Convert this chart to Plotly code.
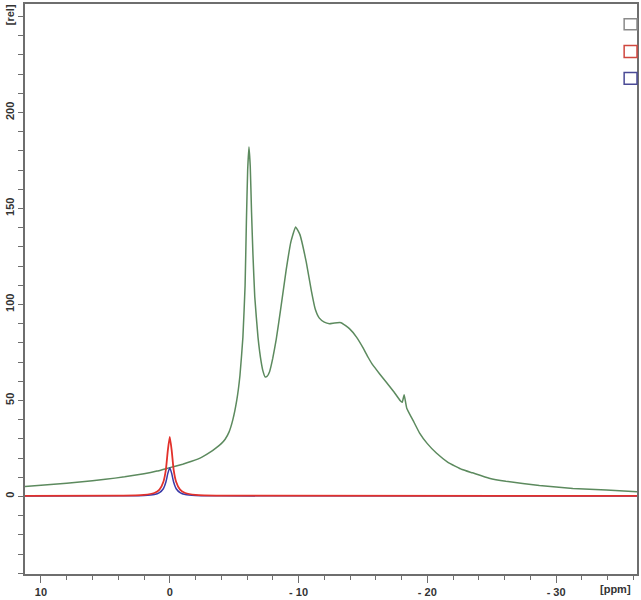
import plotly.graph_objects as go

# ---- data ----
green_ppm = [11.24, 9, 7, 5, 3.5, 2, 1, 0, -1, -1.7, -2.5, -3.2, -3.6, -4.0, -4.3, -4.6, -4.9,
             -5.2, -5.45, -5.68, -5.85, -5.95, -6.05, -6.15, -6.25, -6.35, -6.46, -6.6,
             -6.85, -7.1, -7.25, -7.4, -7.55, -7.75, -8.0, -8.27, -8.6, -9.04, -9.4, -9.77,
             -10.1, -10.6, -11.0, -11.3, -11.6, -12.0, -12.4, -12.8, -13.3, -13.95, -14.5,
             -15.0, -15.4, -15.76, -16.3, -16.8, -17.4, -17.88, -18.05, -18.2, -18.4, -18.9, -19.4,
             -20.0, -20.7, -21.6, -22.7, -23.5, -24.8, -26.1, -28.7, -31.3, -33.9, -36.28]
green_val = [5.2, 6.3, 7.5, 8.9, 10.2, 11.8, 13.2, 15, 16.8, 18.3, 20.5, 23.3, 25.3, 27.5, 29.8, 33.5, 40.0,
             50, 63, 83, 110, 143, 170, 182, 172, 148, 126, 104,
             83, 70, 65, 62.3, 62.5, 65, 72, 82, 97, 118, 132.5, 140.4,
             136.5, 122, 107, 97.5, 93, 90.8, 90, 90.4, 90.5, 87.4, 83,
             77.5, 72.5, 68.5, 63.8, 59.6, 54.5, 50, 49, 53, 46, 39.5, 33,
             27.5, 22.6, 17.8, 14, 12.3, 9.5, 7.9, 5.7, 4.2, 3.3, 2.5]

peak_ppm = [11.24, 4, 2, 1.2, 0.8, 0.5, 0.3, 0.15, 0, -0.15, -0.3, -0.5, -0.8, -1.2, -2, -4, -36.28]
red_val = [0.3, 0.4, 0.8, 1.8, 3.5, 7.5, 14, 24, 31, 24, 14, 7.5, 3.5, 1.8, 0.8, 0.4, 0.3]
blue_val = [0.2, 0.3, 0.5, 1.0, 2.0, 4.0, 7.5, 12, 15, 12, 7.5, 4, 2, 1, 0.5, 0.3, 0.2]

x_tick_vals = [10, 0, -10, -20, -30]
x_tick_text = ["10", "0", "- 10", "- 20", "- 30"]
y_tick_vals = [0, 50, 100, 150, 200, 250]
y_tick_text = ["0", "50", "100", "150", "200", "[rel]"]

GREEN = "#5c8a5e"
RED = "#e2312b"
BLUE = "#3a3aa8"
FRAME = "#6e6e6e"
FONT = dict(family="Liberation Sans, Arial, sans-serif", size=11, color="#333333")

fig = go.Figure()
fig.add_trace(go.Scatter(x=green_ppm, y=green_val, mode="lines",
                         line=dict(color=GREEN, width=1.5, shape="spline", smoothing=0.35)))
fig.add_trace(go.Scatter(x=peak_ppm, y=blue_val, mode="lines",
                         line=dict(color=BLUE, width=1.5, shape="spline", smoothing=0.5)))
fig.add_trace(go.Scatter(x=peak_ppm, y=red_val, mode="lines",
                         line=dict(color=RED, width=1.8, shape="spline", smoothing=0.5)))

# legend-like open squares at top right
for (ya, yb, col) in [(0.955, 0.974, "#8a8a8a"), (0.906, 0.927, "#d0473f"), (0.859, 0.880, "#4a4a96")]:
    fig.add_shape(type="rect", xref="paper", yref="paper", x0=0.979, x1=1.0, y0=ya, y1=yb,
                  line=dict(color=col, width=1.5), fillcolor="rgba(0,0,0,0)")

fig.add_annotation(text="<b>[ppm]</b>", xref="paper", yref="paper", x=0.965, y=-0.012,
                   xanchor="center", yanchor="top", showarrow=False, font=FONT)

fig.update_layout(
    width=641, height=600,
    margin=dict(l=25, r=3, t=2, b=25),
    paper_bgcolor="white", plot_bgcolor="white",
    showlegend=False,
    font=FONT,
    xaxis=dict(range=[11.24, -36.28], showgrid=False, zeroline=False,
               tickvals=x_tick_vals, ticktext=["<b>%s</b>" % t for t in x_tick_text],
               ticks="outside", ticklen=7, tickcolor=FRAME, tickwidth=1,
               minor=dict(dtick=2, tick0=0, ticks="outside", ticklen=4, tickcolor=FRAME),
               showline=True, linecolor=FRAME, linewidth=1.5, mirror=True),
    yaxis=dict(range=[-40.4, 256.5], showgrid=False, zeroline=False,
               tickvals=y_tick_vals, ticktext=["<b>%s</b>" % t for t in y_tick_text],
               tickangle=-90,
               ticks="outside", ticklen=5, tickcolor=FRAME, tickwidth=1,
               minor=dict(dtick=10, tick0=0, ticks="outside", ticklen=5, tickcolor=FRAME),
               showline=True, linecolor=FRAME, linewidth=1.5, mirror=True),
)

fig.write_html("out.html", config={"displayModeBar": False},
               post_script="document.body.style.margin='0';document.body.style.overflow='hidden';")
